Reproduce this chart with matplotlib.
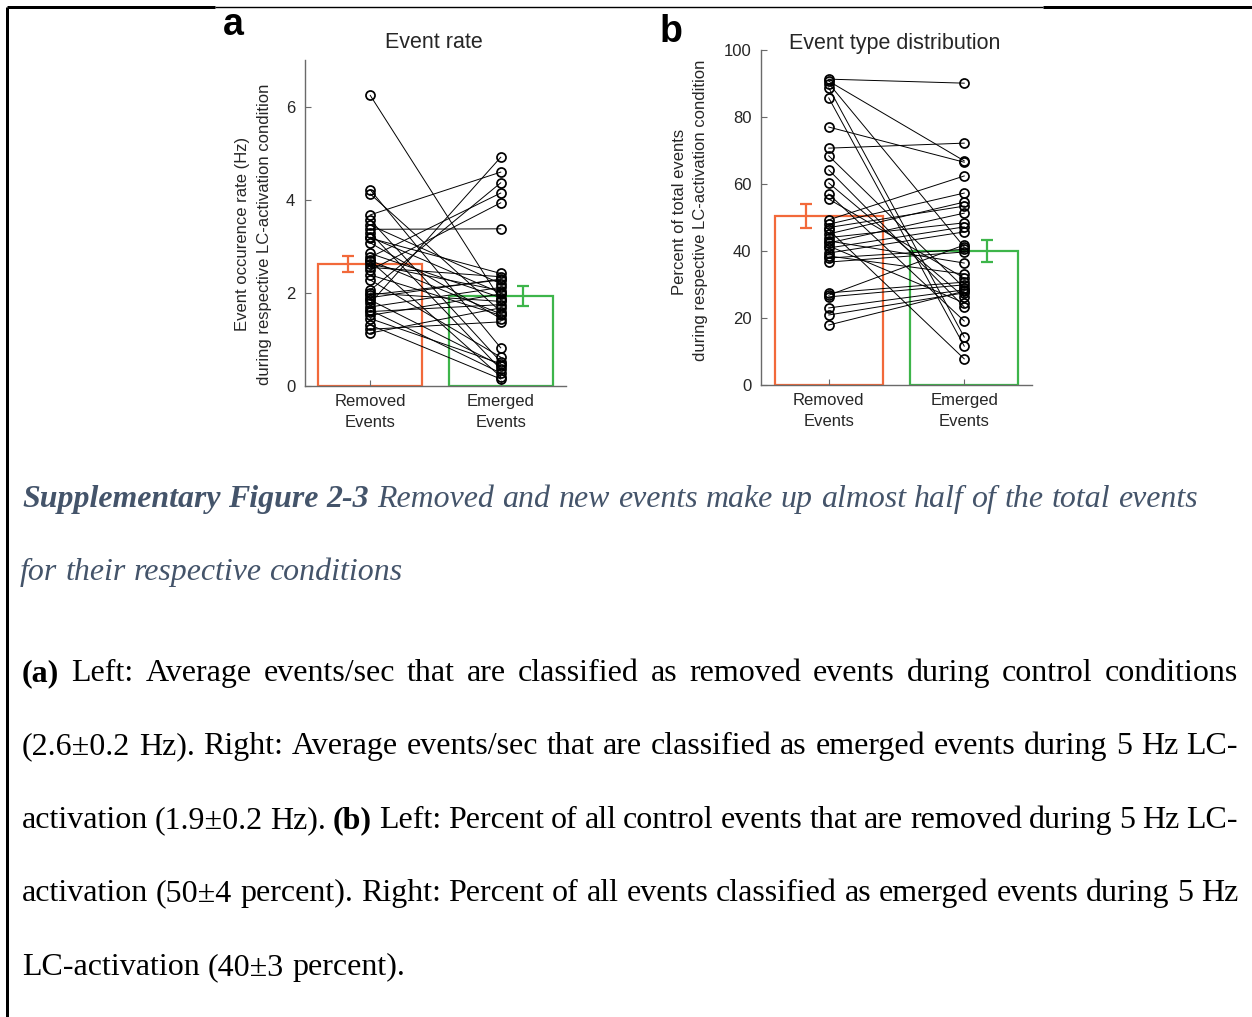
import matplotlib
matplotlib.use("Agg")
import matplotlib.pyplot as plt
from matplotlib.lines import Line2D

# ---------------- data ----------------
conditions = ["Removed\nEvents", "Emerged\nEvents"]

# (a) event rate per recording, Hz (removed -> emerged pairs)
rate_removed = [6.25, 4.22, 4.13, 3.68, 3.57, 3.46, 3.37, 3.29, 3.18, 3.08,
                2.77, 2.69, 2.62, 2.49, 2.39, 2.28, 2.06, 1.96, 1.85, 1.78,
                1.70, 1.63, 1.52, 1.31, 1.22, 1.14, 2.85, 2.55, 2.00, 1.90,
                1.60, 3.20, 2.70, 1.45]
rate_emerged = [1.85, 0.82, 1.60, 4.60, 0.52, 2.20, 3.38, 0.36, 2.42, 1.45,
                4.15, 0.20, 2.05, 3.94, 1.52, 0.62, 4.37, 2.28, 0.44, 4.92,
                2.12, 0.28, 1.98, 0.15, 1.38, 1.68, 1.90, 2.35, 1.82, 2.30,
                1.75, 2.00, 1.55, 0.48]
rate_mean = [2.62, 1.94]
rate_sem = [0.17, 0.22]

# (b) percent of total events (removed -> emerged pairs)
pct_removed = [91.3, 90.7, 90.0, 88.7, 85.7, 77.0, 70.7, 68.4, 64.2, 60.3,
               57.0, 55.5, 49.3, 48.0, 47.0, 46.3, 45.1, 44.0, 43.0, 42.4,
               41.5, 40.9, 39.4, 38.5, 37.9, 36.7, 27.5, 26.8, 26.3, 23.0,
               20.9, 17.9]
pct_emerged = [90.1, 66.9, 41.2, 14.3, 11.6, 66.5, 72.2, 29.0, 23.3, 26.3,
               19.1, 31.9, 62.4, 57.3, 53.4, 7.8, 54.6, 48.4, 36.4, 51.3,
               24.5, 47.2, 45.7, 33.1, 40.5, 39.7, 30.7, 41.8, 29.9, 28.4,
               27.5, 28.0]
pct_mean = [50.4, 40.0]
pct_sem = [3.6, 3.3]

rate_ticks = [0, 2, 4, 6]
pct_ticks = [0, 20, 40, 60, 80, 100]

# ---------------- style ----------------
W, H = 1252, 1017
BAR_COLORS = ["#F2693A", "#3DB54A"]
AX_COLOR = "#6a6a6a"
TXT_COLOR = "#262626"
SANS = "Liberation Sans"
SERIF = "Liberation Serif"
CAPTION_COLOR = "#44546A"

fig = plt.figure(figsize=(W / 100, H / 100), dpi=100)


def fx(x):
    return x / W


def fy(y):
    return 1 - y / H


def paired_panel(ax, before, after, means, sems, ylim, ticks):
    xs = [1, 2]
    ax.bar(xs, means, width=0.8, facecolor="none", edgecolor=BAR_COLORS,
           linewidth=1.6, zorder=1)
    for b, a in zip(before, after):
        ax.plot(xs, [b, a], "-", color="black", linewidth=0.7, zorder=2)
        ax.plot(xs, [b, a], "o", markerfacecolor="none", markeredgecolor="black",
                markersize=6.5, markeredgewidth=1.25, zorder=3)
    offs = [-0.17, 0.17]
    for i in range(2):
        ax.errorbar(xs[i] + offs[i], means[i], yerr=sems[i], color=BAR_COLORS[i],
                    linewidth=1.6, capsize=4, capthick=1.6, zorder=4)
    ax.set_xlim(0.5, 2.5)
    ax.set_ylim(*ylim)
    ax.set_yticks(ticks)
    ax.set_xticks(xs)
    ax.set_xticklabels(conditions, fontfamily=SANS, fontsize=12, color=TXT_COLOR,
                       linespacing=1.45)
    for lab in ax.get_yticklabels():
        lab.set_fontfamily(SANS)
        lab.set_fontsize(12)
        lab.set_color(TXT_COLOR)
    ax.tick_params(direction="in", length=4, width=0.8, color=AX_COLOR)
    ax.tick_params(axis="y", pad=7)
    ax.tick_params(axis="x", pad=6)
    for s in ["top", "right"]:
        ax.spines[s].set_visible(False)
    for s in ["left", "bottom"]:
        ax.spines[s].set_color(AX_COLOR)
        ax.spines[s].set_linewidth(1.0)
    ax.patch.set_alpha(0)


axa = fig.add_axes([fx(305), fy(386), (566 - 305) / W, (386 - 60.5) / H])
paired_panel(axa, rate_removed, rate_emerged, rate_mean, rate_sem, (0, 7), rate_ticks)

axb = fig.add_axes([fx(761), fy(385), (1032 - 761) / W, (385 - 50) / H])
paired_panel(axb, pct_removed, pct_emerged, pct_mean, pct_sem, (0, 100), pct_ticks)

# titles, panel letters, axis labels
fig.text(fx(434), fy(42), "Event rate", ha="center", va="center",
         fontfamily=SANS, fontsize=15.5, color=TXT_COLOR)
fig.text(fx(895), fy(44), "Event type distribution", ha="center", va="center",
         fontfamily=SANS, fontsize=15.5, color=TXT_COLOR)
fig.text(fx(233), fy(35), "a", ha="center", va="baseline", fontfamily=SANS,
         fontweight="bold", fontsize=27, color="black")
fig.text(fx(671), fy(42), "b", ha="center", va="baseline", fontfamily=SANS,
         fontweight="bold", fontsize=27, color="black")

for x, y, s in [(243, 234, "Event occurence rate (Hz)"),
                (264, 234, "during respective LC-activation condition"),
                (679, 212, "Percent of total events"),
                (700, 210, "during respective LC-activation condition")]:
    fig.text(fx(x), fy(y), s, rotation=90, ha="center", va="center",
             fontfamily=SANS, fontsize=12, color=TXT_COLOR)

# page frame
frame = [((7, 7), (7, H), 3.0), ((7, 7), (215, 7), 3.0),
         ((215, 7), (1043, 7), 1.4), ((1043, 7), (W, 7), 3.0)]
for (x0, y0), (x1, y1), lw in frame:
    fig.add_artist(Line2D([fx(x0), fx(x1)], [fy(y0), fy(y1)], color="black",
                          linewidth=lw * 0.72, transform=fig.transFigure,
                          solid_capstyle="butt"))

# ---------------- caption ----------------
renderer = fig.canvas.get_renderer()


def text_line(tokens, y, x0, x1=None, size=23.1, color="black", style="normal"):
    """Place words of one line; spread them to x1 when given (justified)."""
    objs = []
    for word, weight in tokens:
        t = fig.text(fx(x0), fy(y), word, ha="left", va="baseline",
                     fontfamily=SERIF, fontsize=size, color=color,
                     fontstyle=style, fontweight=weight)
        objs.append(t)
    widths = [t.get_window_extent(renderer).width for t in objs]
    probe = fig.text(0, 0, "a a", fontfamily=SERIF, fontsize=size, fontstyle=style)
    probe2 = fig.text(0, 0, "aa", fontfamily=SERIF, fontsize=size, fontstyle=style)
    space = probe.get_window_extent(renderer).width - probe2.get_window_extent(renderer).width
    probe.remove()
    probe2.remove()
    if x1 is not None and len(objs) > 1:
        gap = (x1 - x0 - sum(widths)) / (len(objs) - 1)
    else:
        gap = space
    x = x0
    for t, w in zip(objs, widths):
        t.set_x(fx(x))
        x += w + gap


def words(s, weight="normal"):
    return [(w, weight) for w in s.split()]


cap_size = 22.95
text_line(words("Supplementary Figure 2-3", "bold")
          + words("Removed and new events make up almost half of the total events"),
          507, 22, size=cap_size, color=CAPTION_COLOR, style="italic")
text_line(words("for their respective conditions"), 580, 20, size=cap_size,
          color=CAPTION_COLOR, style="italic")

body = [
    (words("(a)", "bold") + words("Left: Average events/sec that are classified as removed events during control conditions"), 681, True),
    (words("(2.6±0.2 Hz). Right: Average events/sec that are classified as emerged events during 5 Hz LC-"), 754, True),
    (words("activation (1.9±0.2 Hz).") + words("(b)", "bold") + words("Left: Percent of all control events that are removed during 5 Hz LC-"), 828, True),
    (words("activation (50±4 percent). Right: Percent of all events classified as emerged events during 5 Hz"), 901, True),
    (words("LC-activation (40±3 percent)."), 975, False),
]
for toks, y, just in body:
    text_line(toks, y, 22, 1238 if just else None, size=23.0)

fig.savefig("out.png", dpi=100)
